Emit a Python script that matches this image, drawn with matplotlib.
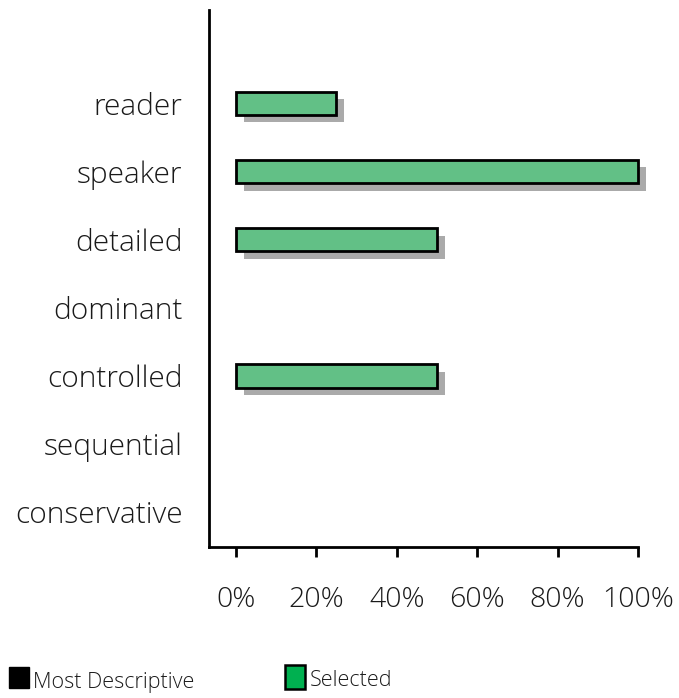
import matplotlib
matplotlib.use("Agg")
import matplotlib.pyplot as plt
from matplotlib.patches import Rectangle
from matplotlib.ticker import FuncFormatter

categories = ["reader", "speaker", "detailed", "dominant", "controlled", "sequential", "conservative"]
selected_pct = [25, 100, 50, 0, 50, 0, 0]
xticks = [0, 20, 40, 60, 80, 100]

plt.rcParams["font.family"] = ["Open Sans", "DejaVu Sans"]
plt.rcParams["font.weight"] = 300
plt.rcParams["text.color"] = "#1a1a1a"
plt.rcParams["xtick.color"] = "black"
plt.rcParams["xtick.labelcolor"] = "#1a1a1a"
plt.rcParams["ytick.labelcolor"] = "#1a1a1a"

W, H = 679, 698
fig = plt.figure(figsize=(W / 100, H / 100), dpi=100)
ax = fig.add_axes([209 / W, 1 - 547 / H, (638 - 209) / W, (547 - 10) / H])

ypos = list(range(len(categories)))
bar_h = 0.34
# drop-shadow offset in data units
dx, dy = 2.0, 0.11
for y, v in zip(ypos, selected_pct):
    if v <= 0:
        continue
    ax.add_patch(Rectangle((dx, y - bar_h / 2 + dy), v, bar_h, facecolor="#aaaaaa",
                           edgecolor="none", zorder=1, clip_on=False))
    ax.add_patch(Rectangle((0, y - bar_h / 2), v, bar_h, facecolor="#62c086",
                           edgecolor="black", linewidth=2, zorder=2, clip_on=False))

ax.set_xlim(-6.7, 100)
ax.set_ylim(len(categories) - 1 + 0.51, -1.37)
ax.set_yticks(ypos)
ax.set_yticklabels(categories)
ax.set_xticks(xticks)
ax.xaxis.set_major_formatter(FuncFormatter(lambda v, p: f"{int(v)}%"))
ax.tick_params(axis="y", length=0, pad=19, labelsize=21.5)
ax.tick_params(axis="x", length=7, width=2, pad=21, labelsize=20.5)
for s in ["top", "right"]:
    ax.spines[s].set_visible(False)
for s in ["left", "bottom"]:
    ax.spines[s].set_linewidth(2)

# legend
fig.patches.append(Rectangle((9 / W, 1 - 688 / H), 20 / W, 21 / H,
                             transform=fig.transFigure, facecolor="black", edgecolor="black"))
fig.text(33 / W, 1 - 688 / H, "Most Descriptive", fontsize=15.5, va="baseline")
fig.patches.append(Rectangle((285 / W, 1 - 689 / H), 20 / W, 24 / H,
                             transform=fig.transFigure, facecolor="#00b050", edgecolor="black",
                             linewidth=1.8))
fig.text(310 / W, 1 - 686 / H, "Selected", fontsize=15.5, va="baseline")

fig.savefig("out.png", dpi=100)
